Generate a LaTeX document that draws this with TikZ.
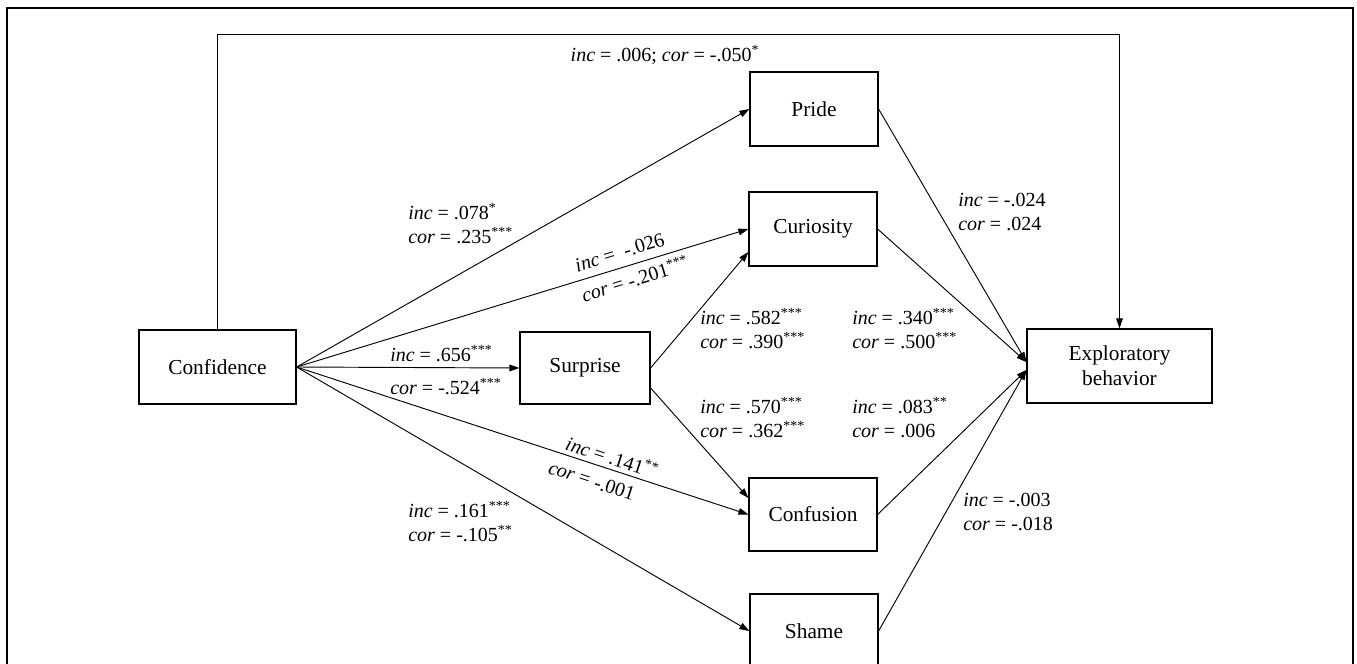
\documentclass[tikz,border=0pt]{standalone}
\usepackage{fontspec}
\setmainfont{Liberation Serif}
\usetikzlibrary{arrows.meta,calc}

\newcommand\vinc{\textit{inc}}
\newcommand\vcor{\textit{cor}}
\newcommand\sig[1]{\textsuperscript{#1}}

\begin{document}
\begin{tikzpicture}[x=0.75pt,y=-0.75pt,
  box/.style={draw, line width=0.9pt, inner sep=0pt, font=\fontsize{16}{18.75}\selectfont, align=center},
  lbl/.style={font=\fontsize{15}{18}\selectfont, align=left, inner sep=0pt, anchor=west},
  slbl/.style={font=\fontsize{15}{18}\selectfont, sloped, inner sep=1pt},
  conn/.style={line width=0.7pt, -{Triangle[length=7.5pt,width=5pt]}},
]
\useasboundingbox (0,0) rectangle (1357,664);
\draw[line width=1.2pt] (7,720) -- (7,8) -- (1353,8) -- (1353,720);

\node[box, minimum width=117.75pt, minimum height=55.5pt] (conf) at (217.5,367) {Confidence};
\node[box, minimum width=97.5pt, minimum height=54pt] (surp) at (585,368) {Surprise};
\node[box, minimum width=96pt, minimum height=55.5pt] (pride) at (814,109) {Pride};
\node[box, minimum width=96pt, minimum height=55.5pt] (cur) at (813,229) {Curiosity};
\node[box, minimum width=96pt, minimum height=54.75pt] (conf2) at (813,514.5) {Confusion};
\node[box, minimum width=96pt, minimum height=55.5pt] (shame) at (814,631) {Shame};
\node[box, minimum width=138.75pt, minimum height=55.5pt] (expl) at (1119.5,366) {Exploratory\\behavior};

\coordinate (ctop) at (conf.north |- 0,34);
\coordinate (etop) at (expl.north |- 0,34);
\draw[conn] (conf.north) -- (ctop) -- (etop) -- (expl.north);
\node[lbl, anchor=center] (ltop) at (665,55) {\vinc{} = .006; \vcor{} = -.050\sig{*}};

\coordinate (curin) at ($(cur.west)+(0,23)$);
\coordinate (surout) at ($(surp.east)+(0,20)$);
\coordinate (confin) at ($(conf2.west)+(0,-16.5)$);
\coordinate (ein1) at ($(expl.west)+(0,-4)$);
\coordinate (ein2) at ($(expl.west)+(0,4)$);

\draw[conn] (conf.east) -- (pride.west);
\draw[conn] (conf.east) -- node[slbl, above=5pt, pos=0.725] (l2a) {\vinc{} =\ \ -.026} node[slbl, below=3pt, pos=0.74] (l2b) {\vcor{} = -.201\sig{***}} (cur.west);
\draw[conn] (conf.east) -- (surp.west);
\draw[conn] (conf.east) -- node[slbl, above=2pt, pos=0.69] (l4a) {\vinc{} = .141\sig{**}} node[slbl, below=6pt, pos=0.665] (l4b) {\vcor{} = -.001} (conf2.west);
\draw[conn] (conf.east) -- (shame.west);
\draw[conn] (surp.east) -- (curin);
\draw[conn] (surout) -- (confin);
\draw[conn] (pride.east) -- (ein1);
\draw[conn] (cur.east) -- (ein1);
\draw[conn] (conf2.east) -- (ein2);
\draw[conn] (shame.east) -- (ein2);

\node[lbl] (l1) at (408,224) {\vinc{} = .078\sig{*}\\\vcor{} = .235\sig{***}};
\node[lbl] (l3a) at (390,354) {\vinc{} = .656\sig{***}};
\node[lbl] (l3b) at (390,387) {\vcor{} = -.524\sig{***}};
\node[lbl] (l5) at (408,522) {\vinc{} = .161\sig{***}\\\vcor{} = -.105\sig{**}};
\node[lbl] (l6) at (700,329) {\vinc{} = .582\sig{***}\\\vcor{} = .390\sig{***}};
\node[lbl] (l7) at (700,418) {\vinc{} = .570\sig{***}\\\vcor{} = .362\sig{***}};
\node[lbl] (l8) at (852,329) {\vinc{} = .340\sig{***}\\\vcor{} = .500\sig{***}};
\node[lbl] (l9) at (852,418) {\vinc{} = .083\sig{**}\\\vcor{} = .006};
\node[lbl] (l10) at (958,212) {\vinc{} = -.024\\\vcor{} = .024};
\node[lbl] (l11) at (963,512) {\vinc{} = -.003\\\vcor{} = -.018};
\end{tikzpicture}
\end{document}
